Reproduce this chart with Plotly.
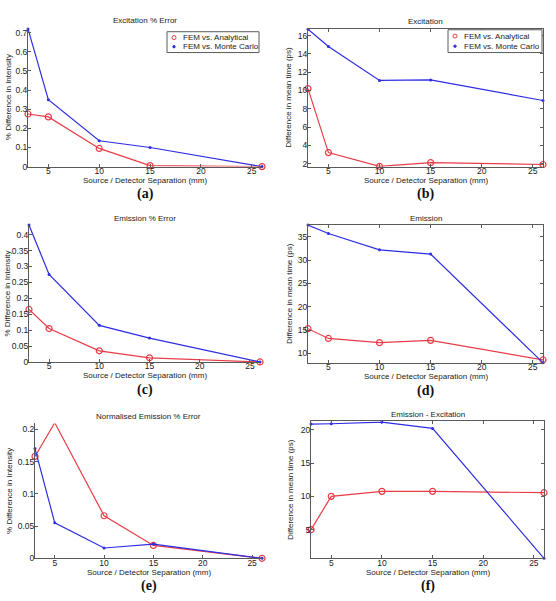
import plotly.graph_objects as go

# ---- data ----
separation = [3, 5, 10, 15, 26]

exc_err_analytical = [0.275, 0.26, 0.095, 0.005, 0.0]
exc_err_montecarlo = [0.72, 0.35, 0.135, 0.10, 0.0]

exc_time_analytical = [10.2, 3.2, 1.7, 2.1, 1.9]
exc_time_montecarlo = [16.7, 14.8, 11.1, 11.15, 8.9]

emi_err_analytical = [0.165, 0.105, 0.035, 0.013, 0.0]
emi_err_montecarlo = [0.43, 0.275, 0.115, 0.075, 0.0]

emi_time_analytical = [15.3, 13.2, 12.3, 12.8, 8.6]
emi_time_montecarlo = [37.5, 35.7, 32.2, 31.3, 8.0]

norm_err_analytical = [0.158, 0.21, 0.066, 0.02, 0.0]
norm_err_montecarlo = [0.17, 0.055, 0.016, 0.022, 0.0]

diff_time_analytical = [5.0, 10.0, 10.75, 10.75, 10.55]
diff_time_montecarlo = [20.85, 20.9, 21.15, 20.2, 0.7]

titles = ["Excitation % Error", "Excitation", "Emission % Error", "Emission",
          "Normalised Emission % Error", "Emission - Excitation"]
ylabels = ["% Difference in Intensity", "Difference in mean time (ps)",
           "% Difference in Intensity", "Difference in mean time (ps)",
           "% Difference in Intensity", "Difference in mean time (ps)"]
panel_labels = ["(a)", "(b)", "(c)", "(d)", "(e)", "(f)"]
xlabel = "Source / Detector Separation (mm)"
series_names = ["FEM vs. Analytical", "FEM vs. Monte Carlo"]
x_ticks = [5, 10, 15, 20, 25]

# ---- layout geometry (pixels) ----
W, H = 556, 601
panels = [
    # (x0, x1, y0_top, y1_bottom, yrange, dtick, ylabel_x, box)
    (28, 262, 28, 168, [0, 0.726], 0.1, 8, False),
    (308, 543, 29, 168, [1.67, 16.75], 2, 289, True),
    (29, 260, 227, 365, [0, 0.43], 0.05, 8, False),
    (308, 543, 227, 366, [7.95, 37.5], 5, 289, True),
    (35, 262, 427, 563, [0, 0.209], 0.05, 10, False),
    (311, 544, 425, 563, [0.7, 21.24], 5, 291, True),
]
data_pairs = [
    (exc_err_analytical, exc_err_montecarlo),
    (exc_time_analytical, exc_time_montecarlo),
    (emi_err_analytical, emi_err_montecarlo),
    (emi_time_analytical, emi_time_montecarlo),
    (norm_err_analytical, norm_err_montecarlo),
    (diff_time_analytical, diff_time_montecarlo),
]
# legend boxes (x0, y0, x1, y1) in pixels, for panels (a) and (b)
legend_boxes = {0: (167, 32, 259, 53), 1: (448, 30, 542, 53)}

RED = "rgb(232,60,70)"
BLUE = "rgb(45,45,225)"
AX = "rgb(90,90,90)"
FONT = "Liberation Sans, Arial, sans-serif"
TXT = "#222"
FS = 8

fig = go.Figure()
annotations = []
shapes = []
layout_axes = {}

def px(x):
    return x / W

def py(y):
    return 1 - y / H

for i, ((x0, x1, y0, y1, yr, dt, ylx, box), (ra, bm)) in enumerate(zip(panels, data_pairs)):
    n = "" if i == 0 else str(i + 1)
    xa, ya = "x" + n, "y" + n
    fig.add_trace(go.Scatter(x=separation, y=ra, mode="lines+markers", xaxis=xa, yaxis=ya,
                             name=series_names[0],
                             line=dict(color=RED, width=1.2),
                             marker=dict(symbol="circle-open", size=6, color=RED, line=dict(width=1.2)),
                             showlegend=False, cliponaxis=False))
    fig.add_trace(go.Scatter(x=separation, y=bm, mode="lines+markers", xaxis=xa, yaxis=ya,
                             name=series_names[1],
                             line=dict(color=BLUE, width=1.2),
                             marker=dict(symbol="circle", size=3, color=BLUE),
                             showlegend=False, cliponaxis=False))
    common = dict(showgrid=False, zeroline=False, showline=True, linecolor=AX, linewidth=1,
                  ticks="inside", ticklen=3, tickcolor=AX, mirror="ticks" if box else False,
                  tickfont=dict(family=FONT, size=FS + 0.5, color=TXT))
    layout_axes["xaxis" + n] = dict(common, domain=[px(x0), px(x1)], range=[3, 26],
                                    tickvals=x_ticks, anchor=ya, ticklabelstandoff=-4)
    layout_axes["yaxis" + n] = dict(common, domain=[py(y1), py(y0)], range=yr,
                                    dtick=dt, tick0=0, anchor=xa, ticklabelstandoff=-2)
    cx = px((x0 + x1) / 2)
    annotations.append(dict(text=titles[i], x=cx, y=py(y0 - 7), xref="paper", yref="paper",
                            showarrow=False, xanchor="center", yanchor="middle",
                            font=dict(family=FONT, size=FS, color=TXT)))
    annotations.append(dict(text=xlabel, x=cx, y=py(y1 + 14), xref="paper", yref="paper",
                            showarrow=False, xanchor="center", yanchor="middle",
                            font=dict(family=FONT, size=FS, color=TXT)))
    annotations.append(dict(text="<b>" + panel_labels[i] + "</b>", x=cx, y=py(y1 + 28),
                            xref="paper", yref="paper", showarrow=False, xanchor="center",
                            yanchor="middle",
                            font=dict(family="Liberation Serif, Times New Roman, serif", size=14,
                                      color="#111")))
    annotations.append(dict(text=ylabels[i], x=px(ylx), y=py((y0 + y1) / 2), xref="paper",
                            yref="paper", showarrow=False, textangle=-90, xanchor="center",
                            yanchor="middle", font=dict(family=FONT, size=FS, color=TXT)))

# legends drawn as a box with symbols and text
for i, (lx0, ly0, lx1, ly1) in legend_boxes.items():
    shapes.append(dict(type="rect", xref="paper", yref="paper", x0=px(lx0), x1=px(lx1),
                       y0=py(ly1), y1=py(ly0), line=dict(color=AX, width=1), fillcolor="white",
                       layer="above"))
    rows = [(ly0 + (ly1 - ly0) * 0.28, RED, True), (ly0 + (ly1 - ly0) * 0.72, BLUE, False)]
    for (ry, col, hollow), name in zip(rows, series_names):
        sx = lx0 + 7
        r = 2.0 if hollow else 1.2
        shapes.append(dict(type="circle", xref="paper", yref="paper",
                           x0=px(sx - r), x1=px(sx + r), y0=py(ry + r), y1=py(ry - r),
                           line=dict(color=col, width=1),
                           fillcolor="white" if hollow else col, layer="above"))
        annotations.append(dict(text=name, x=px(lx0 + 14), y=py(ry), xref="paper", yref="paper",
                                showarrow=False, xanchor="left", yanchor="middle",
                                font=dict(family=FONT, size=FS, color=TXT)))

fig.update_layout(
    width=W, height=H, margin=dict(l=0, r=0, t=0, b=0),
    paper_bgcolor="white", plot_bgcolor="white",
    annotations=annotations, shapes=shapes, showlegend=False,
    **layout_axes,
)

fig.write_html("out.html", config={"displayModeBar": False},
               post_script="document.body.style.margin='0px';")
